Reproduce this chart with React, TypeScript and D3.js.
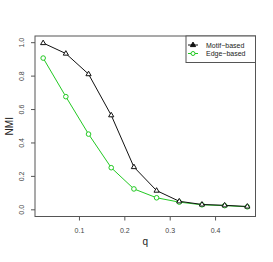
import { line, scaleLinear } from 'd3'

const qValues = [0.02, 0.07, 0.12, 0.17, 0.22, 0.27, 0.32, 0.37, 0.42, 0.47]
const motifNmi = [0.998, 0.935, 0.812, 0.566, 0.256, 0.115, 0.051, 0.032, 0.027, 0.02]
const edgeNmi = [0.908, 0.677, 0.453, 0.252, 0.125, 0.072, 0.046, 0.03, 0.025, 0.018]
const xTickValues = [0.1, 0.2, 0.3, 0.4]
const yTickValues = [0, 0.2, 0.4, 0.6, 0.8, 1.0]
const legendLabels = ['Motif\u2212based', 'Edge\u2212based']

const width = 273
const height = 262
const plot = { left: 35, right: 255.5, top: 36, bottom: 216.5 }
const green = '#22c922'
const font = 'Liberation Sans, Arial, sans-serif'

const App = () => {
  const x = scaleLinear().domain([0.002, 0.488]).range([plot.left, plot.right])
  const y = scaleLinear().domain([-0.04, 1.04]).range([plot.bottom, plot.top])

  const motifPts = qValues.map((q, i) => [x(q), y(motifNmi[i])] as [number, number])
  const edgePts = qValues.map((q, i) => [x(q), y(edgeNmi[i])] as [number, number])
  const path = line()

  const tri = (cx: number, cy: number) =>
    `M${cx},${cy - 2.9}L${cx + 2.6},${cy + 1.6}L${cx - 2.6},${cy + 1.6}Z`

  const legendX = 186
  const legendRows = [45, 53.5]

  return (
    <svg
      width={width}
      height={height}
      style={{ position: 'fixed', left: 0, top: 0, background: 'white' }}
      fontFamily={font}
    >
      {/* green line drawn first, black on top */}
      <path d={path(edgePts) ?? ''} fill="none" stroke={green} strokeWidth={1} />
      {edgePts.map(([cx, cy], i) => (
        <circle key={`e${i}`} cx={cx} cy={cy} r={2.3} fill="white" stroke={green} strokeWidth={1} />
      ))}
      <path d={path(motifPts) ?? ''} fill="none" stroke="#111" strokeWidth={1} />
      {motifPts.map(([cx, cy], i) => (
        <path key={`m${i}`} d={tri(cx, cy)} fill="white" stroke="#111" strokeWidth={1} />
      ))}

      <rect
        x={plot.left}
        y={plot.top}
        width={plot.right - plot.left}
        height={plot.bottom - plot.top}
        fill="none"
        stroke="#555"
        strokeWidth={1}
      />

      {yTickValues.map((v) => (
        <g key={`y${v}`}>
          <line x1={plot.left - 4} x2={plot.left} y1={y(v)} y2={y(v)} stroke="#555" />
          <text
            transform={`translate(24, ${y(v)}) rotate(-90)`}
            textAnchor="middle"
            fontSize={7}
            fill="#444"
          >
            {v.toFixed(1)}
          </text>
        </g>
      ))}
      {xTickValues.map((v) => (
        <g key={`x${v}`}>
          <line x1={x(v)} x2={x(v)} y1={plot.bottom} y2={plot.bottom + 4} stroke="#555" />
          <text x={x(v)} y={233} textAnchor="middle" fontSize={7} fill="#444">
            {v.toFixed(1)}
          </text>
        </g>
      ))}

      <text
        transform={`translate(13, ${(plot.top + plot.bottom) / 2}) rotate(-90)`}
        textAnchor="middle"
        fontSize={10}
        fill="#222"
      >
        NMI
      </text>
      <text x={(plot.left + plot.right) / 2} y={245} textAnchor="middle" fontSize={10} fill="#222">
        q
      </text>

      <rect x={legendX} y={plot.top} width={plot.right - legendX} height={26.5} fill="white" stroke="#555" />
      {legendLabels.map((label, i) => {
        const ly = legendRows[i]
        const color = i === 0 ? '#111' : green
        return (
          <g key={label}>
            <line x1={legendX + 2} x2={legendX + 12} y1={ly} y2={ly} stroke={color} />
            {i === 0 ? (
              <path d={tri(legendX + 7, ly)} fill={color} stroke={color} />
            ) : (
              <circle cx={legendX + 7} cy={ly} r={2} fill="white" stroke={color} />
            )}
            <text x={legendX + 20} y={ly + 2.5} fontSize={7} fill="#222">
              {label}
            </text>
          </g>
        )
      })}
    </svg>
  )
}

export default App
